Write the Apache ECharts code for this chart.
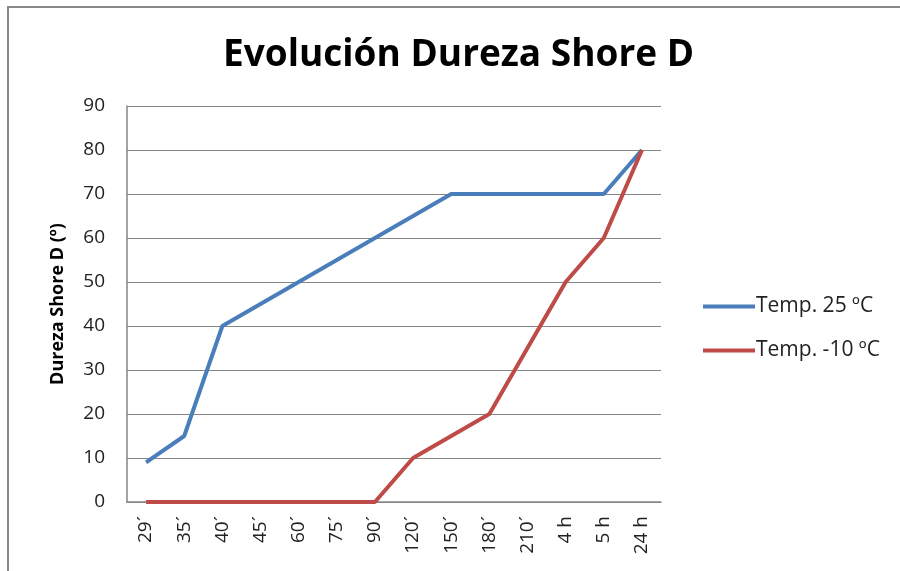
<!DOCTYPE html>
<html><head><meta charset="utf-8">
<script src="https://cdn.jsdelivr.net/npm/echarts@6/dist/echarts.min.js"></script>
<style>html,body{margin:0;padding:0;background:#fff}#frame{position:absolute;left:7px;top:6px;width:900px;height:600px;border:2px solid #888;box-sizing:border-box}#c{position:absolute;left:0;top:0;width:900px;height:571px}</style>
</head><body>
<div id="frame"></div>
<div id="c"></div>
<script>
const categories = ["29´","35´","40´","45´","60´","75´","90´","120´","150´","180´","210´","4 h","5 h","24 h"];
const temp25 = [9,15,40,45,50,55,60,65,70,70,70,70,70,80];
const tempM10 = [0,0,0,0,0,0,0,10,15,20,35,50,60,80];
const seriesNames = ["Temp. 25 ºC","Temp. -10 ºC"];
const yTicks = {min:0,max:90,interval:10};

const chart = echarts.init(document.getElementById('c'), null, {renderer:'canvas'});
const font = "'Open Sans', 'Noto Sans', sans-serif";
chart.setOption({
  backgroundColor: 'transparent',
  animation: false,
  title: {text:'Evolución Dureza Shore D', left: 218, top: 32,
    textStyle:{fontFamily:font, fontWeight:'bold', fontSize:37, color:'#000'}},
  grid: {left:127, right:239, top:106, bottom:69, containLabel:false},
  legend: {orient:'vertical', left:698, top:291, itemGap:23, itemWidth:52, itemHeight:4,
    icon:'rect', textStyle:{fontFamily:font, fontSize:21, color:'#222', padding:[0,0,0,-4]},
    data: seriesNames},
  xAxis: {type:'category', data:categories, boundaryGap:true,
    axisLine:{lineStyle:{color:'#868686', width:1.5}}, axisTick:{show:false},
    axisLabel:{rotate:90, margin:14, fontFamily:font, fontSize:19, color:'#222', interval:0}},
  yAxis: {type:'value', min:yTicks.min, max:yTicks.max, interval:yTicks.interval,
    name:'Dureza Shore D (º)', nameLocation:'middle', nameGap:60,
    nameTextStyle:{fontFamily:font, fontWeight:'bold', fontSize:18, color:'#000'},
    axisLine:{show:true, lineStyle:{color:'#868686', width:1.5}}, axisTick:{show:false},
    splitLine:{lineStyle:{color:'#868686', width:1}},
    axisLabel:{margin:22, fontFamily:font, fontSize:19, color:'#222'}},
  series: [
    {name:seriesNames[0], type:'line', data:temp25, symbol:'none', lineStyle:{width:4, color:'#4a7ebb'}, itemStyle:{color:'#4a7ebb'}, z:2},
    {name:seriesNames[1], type:'line', data:tempM10, symbol:'none', lineStyle:{width:4, color:'#be4b48'}, itemStyle:{color:'#be4b48'}, z:3}
  ]
});
</script>
</body></html>
